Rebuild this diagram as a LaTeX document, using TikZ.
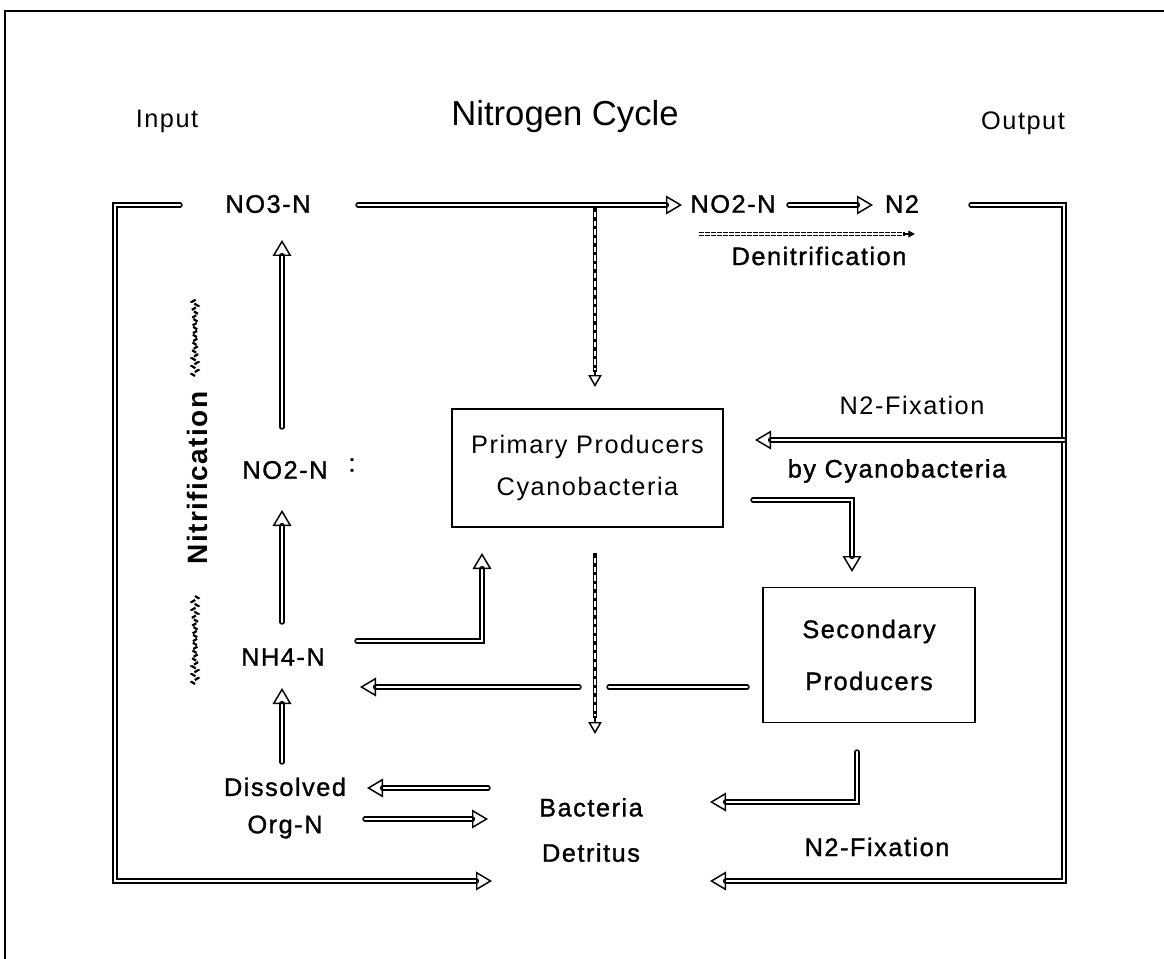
\documentclass[tikz,border=0pt]{standalone}
\usepackage{fontspec}
\setmainfont{Liberation Sans}
\newfontfamily\regf[LetterSpace=6]{Liberation Sans}
\newfontfamily\medf[LetterSpace=6,FakeBold=1.2]{Liberation Sans}
\newfontfamily\boldf[LetterSpace=5]{Liberation Sans Bold}
\usetikzlibrary{arrows.meta,decorations.pathmorphing,calc}
\begin{document}
\begin{tikzpicture}[x=0.75pt,y=-0.75pt,
  lbl/.style={font=\medf\fontsize{19}{28}\selectfont, inner sep=0pt, align=center},
  lite/.style={font=\regf\fontsize{19}{28}\selectfont, inner sep=0pt, align=center},
  boxstyle/.style={draw, line width=1.2pt, inner sep=0pt, align=center},
  hol/.style={draw, line width=1.1pt, double=white, double distance=1.9pt, line cap=round, line join=miter},
  hola/.style={hol, -{Triangle[open, length=12pt, width=14pt]}},
  dthk/.style={draw, line width=3.2pt},
  dwhite/.style={draw=white, line width=1pt, dash pattern=on 4pt off 2.5pt},
  dtip/.style={line width=1.1pt, -{Triangle[open, length=9pt, width=10pt]}},
  squig/.style={line width=1.7pt, dash pattern=on 3.5pt off 2pt, decorate, decoration={zigzag, segment length=6pt, amplitude=2.4pt}}
]
\useasboundingbox (0,0) rectangle (1164,959);
% frame
\draw[line width=2pt] (1164,11) -- (5,11) -- (5,959);

% titles
\node[lite] (input) at (167,121) {Input};
\node[inner sep=0pt, font=\fontsize{26}{30}\selectfont] (title) at (565,117) {Nitrogen Cycle};
\node[lite] (output) at (1023,123) {Output};

% species
\node[lbl] (no3) at (268,204) {NO3-N};
\node[lbl] (no2a) at (733,204) {NO2-N};
\node[lbl] (n2) at (902,204) {N2};
\node[lbl] (denit) at (819,256) {Denitrification};
\node[inner sep=0pt, font=\boldf\fontsize{21}{27}\selectfont, rotate=90] (nitr) at (197,478) {Nitrification};
\node[lbl] (no2b) at (285,470) {NO2-N};
\node[lbl] (colon) at (352,465) {:};
\node[lbl] (nh4) at (283,657) {NH4-N};
\node[lbl] (diss) at (285,808) {Dissolved\\Org-N};
\node[lbl, font=\medf\fontsize{19}{34}\selectfont] (bact) at (591,830) {Bacteria\\Detritus};
\node[boxstyle, font=\regf\fontsize{19}{32}\selectfont, minimum width=203pt, minimum height=88.5pt] (prim) at (587.5,468) {Primary Producers\\Cyanobacteria};
\node[boxstyle, font=\medf\fontsize{19}{39}\selectfont, minimum width=159pt, minimum height=101pt] (sec) at (869,655) {Secondary\\Producers};
\node[lite] (n2fixa) at (912,405) {N2-Fixation};
\node[lbl] (bycy) at (897,471) {by Cyanobacteria};
\node[lbl] (n2fixb) at (877,847) {N2-Fixation};

% bend / end coordinates
\coordinate (lt) at (115,205);
\coordinate (lb) at (115,881);
\coordinate (lend) at (492,881);
\coordinate (rt) at (1064,205);
\coordinate (rb) at (1064,881);
\coordinate (rend) at (710,881);
\coordinate (rf) at (1064,440);

% outer loops
\draw[hola] (180,205) -- (lt) -- (lb) -- (lend);
\draw[hola] (971,205) -- (rt) -- (rb) -- (rend);
\draw[hola] (rf) -- (755,440);

% top row
\draw[hola] (358,205) -- (682,205);
\draw[hola] (789,205) -- (873,205);

% nitrification chain
\draw[hola] (282,427) -- (282,240);
\draw[hola] (282,622) -- (282,510);
\draw[hola] (282,762) -- (282,688);

% NH4 to primary
\draw[hola] (357,641) -- (482,641) -- (482,553);
% primary to secondary
\draw[hola] (753,500) -- (852,500) -- (852,572);
% secondary to NH4
\draw[hol] (747,687) -- (609,687);
\draw[hola] (579,687) -- (360,687);
% secondary to bacteria
\draw[hola] (857,752) -- (857,802) -- (710,802);
% bacteria <-> dissolved
\draw[hola] (488,788) -- (367,788);
\draw[hola] (365,819) -- (488,819);

% dashed uptake NO3 -> primary
\draw[dthk] (595,207) -- (595,372);
\draw[dwhite] (595,212) -- (595,370);
\draw[dtip] (595,370) -- (595,387);
% primary -> bacteria
\draw[dthk] (595,553) -- (595,718);
\draw[dwhite] (595,558) -- (595,716);
\draw[dtip] (595,716) -- (595,734);

% denitrification
\draw[line width=3.2pt, dash pattern=on 3.5pt off 1pt] (699,234) -- (905,234);
\draw[white, line width=0.9pt] (699,234) -- (905,234);
\draw[line width=1.2pt, -{Triangle[length=5pt, width=5pt]}] (903,234) -- (915,234);

% nitrification squiggles
\draw[squig] (195,376) -- (195,298);
\draw[squig] (195,684) -- (195,594);
\end{tikzpicture}
\end{document}
